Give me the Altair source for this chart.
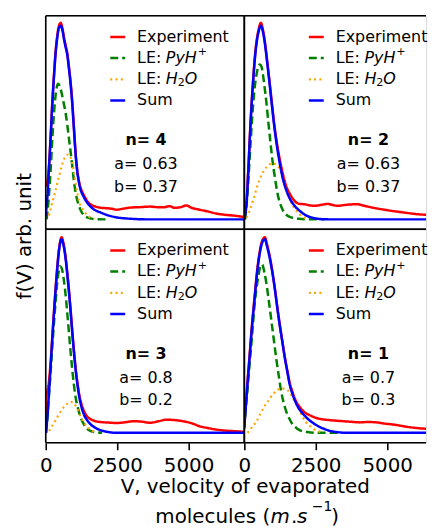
import altair as alt
import pandas as pd

FONT = "DejaVu Sans"
X_MAX = 6950
Y_MIN, Y_MAX = -0.0513, 1.0513
PANEL_W, PANEL_H = 200, 215
RIGHT_W = 183
X_MAX_RIGHT = X_MAX * RIGHT_W / PANEL_W

SERIES = ["Experiment", "PyH", "H2O", "Sum"]
COLORS = {"Experiment": "#ff0000", "PyH": "#008000", "H2O": "#ffa500", "Sum": "#0000ff"}
DASHES = {"Experiment": [1, 0], "PyH": [8, 4], "H2O": [2, 3.3], "Sum": [1, 0]}
WIDTHS = {"Experiment": 2.5, "PyH": 2.5, "H2O": 2.2, "Sum": 2.5}

# ---------------- n = 4 (top-left) ----------------
N4_EXP_V = [0, 30, 60, 120, 175, 232, 290, 347, 405, 463, 521, 580, 640, 695, 753, 811, 870, 927, 985, 1043,
            1100, 1158, 1216, 1300, 1390, 1448, 1564, 1750, 1911, 2100, 2300, 2491, 2700, 2900, 3069, 3300,
            3500, 3648, 3900, 4100, 4343, 4500, 4700, 4921, 5100, 5385, 5700, 5964, 6250, 6543, 6950]
N4_EXP_F = [0.17, 0.19, 0.2, 0.29, 0.44, 0.61, 0.75, 0.87, 0.95, 1.0, 1.015, 0.99, 0.94, 0.90, 0.86, 0.79,
            0.71, 0.61, 0.48, 0.35, 0.26, 0.20, 0.165, 0.135, 0.11, 0.095, 0.078, 0.066, 0.06, 0.058, 0.055,
            0.05, 0.055, 0.06, 0.062, 0.063, 0.065, 0.066, 0.063, 0.062, 0.068, 0.06, 0.062, 0.072, 0.06,
            0.05, 0.04, 0.03, 0.024, 0.02, 0.012]
N4_PYH_V = [30, 100, 174, 232, 290, 370, 430, 490, 560, 630, 695, 753, 811, 870, 927, 985, 1043, 1130, 1216,
            1330, 1448, 1600, 1800, 2100]
N4_PYH_F = [0.0, 0.1, 0.26, 0.42, 0.55, 0.67, 0.70, 0.69, 0.65, 0.60, 0.55, 0.49, 0.42, 0.35, 0.28, 0.2,
            0.14, 0.085, 0.05, 0.022, 0.01, 0.004, 0.001, 0.0]
N4_H2O_V = [116, 200, 290, 380, 463, 550, 637, 720, 790, 870, 927, 985, 1043, 1100, 1158, 1240, 1332, 1450,
            1564, 1700]
N4_H2O_F = [0.02, 0.07, 0.12, 0.17, 0.22, 0.27, 0.31, 0.33, 0.335, 0.32, 0.29, 0.245, 0.19, 0.14, 0.10,
            0.065, 0.045, 0.02, 0.01, 0.0]
N4_SUM_V = [0, 60, 120, 175, 232, 290, 347, 405, 463, 521, 580, 640, 695, 753, 811, 870, 927, 985, 1043,
            1100, 1158, 1216, 1300, 1390, 1448, 1564, 1700, 1911, 2200, 2491, 3000, 3500, 5000, 6950]
N4_SUM_F = [0.02, 0.12, 0.28, 0.43, 0.60, 0.74, 0.86, 0.94, 0.99, 1.00, 0.98, 0.93, 0.89, 0.85, 0.78, 0.70,
            0.60, 0.47, 0.34, 0.25, 0.195, 0.155, 0.125, 0.10, 0.087, 0.067, 0.05, 0.036, 0.02, 0.01, 0.003,
            0.0, 0.0, 0.0]

# ---------------- n = 2 (top-right) ----------------
N2_EXP_V = [0, 40, 81, 140, 197, 255, 313, 370, 429, 500, 580, 650, 718, 800, 892, 980, 1066, 1150, 1240,
            1350, 1471, 1600, 1761, 1930, 2108, 2300, 2456, 2700, 2919, 3100, 3266, 3500, 3700, 3962, 4200,
            4450, 4657, 4900, 5150, 5352, 5700, 6047, 6300, 6568, 6950]
N2_EXP_F = [0.03, 0.05, 0.1, 0.26, 0.44, 0.6, 0.73, 0.84, 0.92, 0.98, 1.015, 0.98, 0.92, 0.82, 0.70, 0.58,
            0.47, 0.385, 0.31, 0.235, 0.17, 0.13, 0.095, 0.08, 0.078, 0.072, 0.07, 0.075, 0.08, 0.074, 0.07,
            0.074, 0.077, 0.078, 0.07, 0.062, 0.056, 0.05, 0.044, 0.04, 0.033, 0.027, 0.024, 0.022, 0.018]
N2_PYH_V = [30, 81, 140, 197, 255, 313, 370, 429, 490, 545, 600, 660, 720, 776, 835, 892, 980, 1066, 1182,
            1270, 1356, 1500, 1645, 1900, 2400, 2800]
N2_PYH_F = [0.0, 0.08, 0.2, 0.34, 0.48, 0.6, 0.69, 0.75, 0.79, 0.80, 0.79, 0.74, 0.67, 0.60, 0.51, 0.43,
            0.31, 0.22, 0.12, 0.075, 0.045, 0.02, 0.01, 0.003, 0.0, 0.0]
N2_H2O_V = [81, 197, 313, 430, 545, 660, 776, 892, 1008, 1120, 1240, 1350, 1471, 1590, 1703, 1820, 1935,
            2080, 2224]
N2_H2O_F = [0.01, 0.05, 0.10, 0.16, 0.21, 0.245, 0.27, 0.285, 0.29, 0.28, 0.26, 0.21, 0.15, 0.105, 0.07,
            0.045, 0.026, 0.01, 0.0]
N2_SUM_V = [0, 40, 81, 140, 197, 255, 313, 370, 429, 500, 580, 650, 718, 800, 892, 980, 1066, 1150, 1240,
            1350, 1471, 1600, 1761, 1930, 2108, 2350, 2571, 3000, 5000, 6950]
N2_SUM_F = [0.0, 0.03, 0.087, 0.25, 0.43, 0.59, 0.72, 0.83, 0.91, 0.97, 1.0, 0.97, 0.91, 0.81, 0.69, 0.57,
            0.46, 0.37, 0.29, 0.21, 0.15, 0.105, 0.07, 0.045, 0.025, 0.01, 0.003, 0.0, 0.0, 0.0]

# ---------------- n = 3 (bottom-left) ----------------
N3_EXP_V = [0, 30, 58, 116, 174, 232, 290, 347, 405, 480, 556, 620, 695, 753, 811, 869, 927, 985, 1043,
            1100, 1158, 1240, 1332, 1420, 1506, 1650, 1800, 1911, 2200, 2491, 2800, 3069, 3350, 3648, 3950,
            4227, 4500, 4806, 5100, 5385, 5700, 5964, 6250, 6543, 6950]
N3_EXP_F = [0.08, 0.2, 0.22, 0.27, 0.37, 0.5, 0.63, 0.75, 0.86, 0.965, 1.01, 0.98, 0.91, 0.83, 0.74, 0.64,
            0.53, 0.43, 0.34, 0.27, 0.21, 0.155, 0.115, 0.09, 0.077, 0.065, 0.058, 0.056, 0.053, 0.051, 0.055,
            0.06, 0.058, 0.052, 0.06, 0.068, 0.066, 0.06, 0.05, 0.034, 0.024, 0.017, 0.012, 0.009, 0.005]
N3_PYH_V = [20, 58, 116, 174, 232, 290, 347, 405, 450, 498, 560, 614, 690, 753, 811, 869, 927, 985, 1050,
            1124, 1220, 1332, 1450, 1564, 1750, 1970]
N3_PYH_F = [0.0, 0.08, 0.2, 0.32, 0.45, 0.57, 0.68, 0.78, 0.83, 0.86, 0.85, 0.81, 0.72, 0.62, 0.52, 0.42,
            0.33, 0.25, 0.18, 0.13, 0.08, 0.045, 0.02, 0.01, 0.003, 0.0]
N3_H2O_V = [116, 200, 290, 400, 521, 640, 753, 869, 960, 1043, 1130, 1216, 1300, 1390, 1500, 1622, 1750]
N3_H2O_F = [0.01, 0.03, 0.05, 0.08, 0.11, 0.135, 0.15, 0.16, 0.155, 0.14, 0.115, 0.085, 0.06, 0.043, 0.025,
            0.01, 0.003]
N3_SUM_V = [0, 58, 116, 174, 232, 290, 347, 405, 480, 556, 620, 695, 753, 811, 869, 927, 985, 1043, 1100,
            1158, 1240, 1332, 1450, 1564, 1750, 1911, 2200, 2500, 4500, 6950]
N3_SUM_F = [0.0, 0.08, 0.21, 0.35, 0.49, 0.62, 0.74, 0.85, 0.96, 1.0, 0.97, 0.90, 0.82, 0.73, 0.63, 0.52,
            0.42, 0.33, 0.26, 0.20, 0.14, 0.096, 0.065, 0.045, 0.025, 0.014, 0.004, 0.0, 0.0, 0.0]

# ---------------- n = 1 (bottom-right) ----------------
N1_EXP_V = [0, 35, 110, 185, 270, 359, 450, 533, 620, 719, 800, 893, 980, 1066, 1150, 1240, 1330, 1414,
            1500, 1588, 1700, 1820, 1960, 2108, 2280, 2456, 2650, 2895, 3200, 3474, 3750, 4054, 4300, 4633,
            4900, 5212, 5500, 5791, 6100, 6486, 6950]
N1_EXP_F = [0.04, 0.11, 0.26, 0.4, 0.56, 0.70, 0.84, 0.93, 0.99, 1.01, 0.97, 0.91, 0.835, 0.75, 0.655, 0.56,
            0.475, 0.395, 0.325, 0.26, 0.205, 0.16, 0.13, 0.106, 0.092, 0.08, 0.072, 0.067, 0.063, 0.06,
            0.057, 0.054, 0.056, 0.054, 0.048, 0.043, 0.036, 0.029, 0.024, 0.02, 0.017]
N1_PYH_V = [0, 35, 110, 185, 270, 359, 430, 498, 560, 625, 700, 764, 850, 938, 1025, 1112, 1200, 1286, 1370,
            1460, 1570, 1679, 1820, 1969, 2200, 2500, 3300]
N1_PYH_F = [0.02, 0.1, 0.22, 0.355, 0.5, 0.66, 0.75, 0.815, 0.86, 0.87, 0.83, 0.78, 0.69, 0.59, 0.49, 0.39,
            0.30, 0.217, 0.16, 0.114, 0.075, 0.046, 0.025, 0.012, 0.004, 0.0, 0.0]
N1_H2O_V = [115, 270, 428, 570, 719, 860, 1008, 1150, 1297, 1440, 1588, 1700, 1820, 1935, 2050, 2160, 2282,
            2420, 2571, 2750]
N1_H2O_F = [0.0, 0.03, 0.06, 0.10, 0.14, 0.17, 0.20, 0.22, 0.23, 0.225, 0.21, 0.18, 0.15, 0.115, 0.08,
            0.055, 0.038, 0.02, 0.01, 0.0]
N1_SUM_V = [0, 35, 110, 185, 270, 359, 450, 533, 620, 719, 800, 893, 980, 1066, 1150, 1240, 1330, 1414, 1500,
            1588, 1700, 1820, 1960, 2108, 2280, 2456, 2630, 2803, 3000, 3300, 3600, 5000, 6950]
N1_SUM_F = [0.03, 0.1, 0.25, 0.39, 0.55, 0.69, 0.83, 0.92, 0.98, 1.0, 0.96, 0.90, 0.83, 0.745, 0.65, 0.556,
            0.47, 0.39, 0.32, 0.25, 0.195, 0.15, 0.115, 0.089, 0.065, 0.046, 0.031, 0.02, 0.01, 0.003, 0.0,
            0.0, 0.0]

PANEL_N = ["4", "2", "3", "1"]
PANEL_A = ["0.63", "0.63", "0.8", "0.7"]
PANEL_B = ["0.37", "0.37", "0.2", "0.3"]
X_TICKS = [0, 2500, 5000]
Y_TITLE = "f(V) arb. unit"
X_TITLE_1 = "V, velocity of evaporated"

ONE = pd.DataFrame({"k": [0]})


def txt(t, x, y, size=16, style="normal", weight="normal", align="left", angle=0):
    return alt.Chart(ONE).mark_text(
        text=t, font=FONT, fontSize=size, fontStyle=style, fontWeight=weight,
        align=align, baseline="middle", color="black", angle=angle
    ).encode(x=alt.value(x), y=alt.value(y))


def handle(key, y):
    return alt.Chart(ONE).mark_rule(
        color=COLORS[key], strokeDash=DASHES[key], strokeWidth=WIDTHS[key]
    ).encode(x=alt.value(65), x2=alt.value(80), y=alt.value(y))


def hrule(x1, x2, y):
    return alt.Chart(ONE).mark_rule(color="black", strokeWidth=1.6).encode(
        x=alt.value(x1), x2=alt.value(x2), y=alt.value(y))


def vrule(x, y1, y2):
    return alt.Chart(ONE).mark_rule(color="black", strokeWidth=1.6).encode(
        x=alt.value(x), y=alt.value(y1), y2=alt.value(y2))


def make_panel(data, n, a, b, ann_x, bottom, right, extra=None):
    w = RIGHT_W if right else PANEL_W
    xmax = X_MAX_RIGHT if right else X_MAX
    xs = alt.Scale(domain=[0, xmax], nice=False, zero=False)
    ys = alt.Scale(domain=[Y_MIN, Y_MAX], nice=False, zero=False)
    if bottom:
        xaxis = alt.Axis(values=X_TICKS, format="d", title=None, grid=False, domain=False,
                         ticks=True, tickSize=7, tickWidth=1.6, tickColor="black",
                         labelFontSize=20, labelFont=FONT, labelColor="black",
                         labelPadding=6, labelFlush=False)
    else:
        xaxis = None
    layers = []
    for key in SERIES:
        v, f = data[key]
        layers.append(
            alt.Chart(pd.DataFrame({"v": v, "f": f})).mark_line(
                clip=True, interpolate="monotone", color=COLORS[key],
                strokeDash=DASHES[key], strokeWidth=WIDTHS[key]
            ).encode(
                x=alt.X("v:Q", scale=xs, axis=xaxis),
                y=alt.Y("f:Q", scale=ys, axis=None),
            )
        )
    rows = [21.3, 42.5, 64, 85.3]
    LX = 92
    for key, r in zip(SERIES, rows):
        layers.append(handle(key, r))
    layers.append(txt("Experiment", LX, rows[0]))
    layers.append(txt("LE:", LX, rows[1]))
    layers.append(txt("PyH", LX + 29, rows[1], style="italic"))
    layers.append(txt("+", LX + 61, rows[1] - 6, size=11.2))
    layers.append(txt("LE:", LX, rows[2]))
    layers.append(txt("H", LX + 29, rows[2], style="italic"))
    layers.append(txt("2", LX + 41, rows[2] + 4, size=11.2))
    layers.append(txt("O", LX + 48, rows[2], style="italic"))
    layers.append(txt("Sum", LX, rows[3]))
    layers.append(txt("n= " + n, ann_x, 125.5, weight="bold", align="center"))
    layers.append(txt("a= " + a, ann_x, 149.5, align="center"))
    layers.append(txt("b= " + b, ann_x, 172, align="center"))
    layers.append(hrule(0, w, 0))
    layers.append(hrule(0, w, PANEL_H))
    layers.append(vrule(0, 0, PANEL_H))
    if not right:
        layers.append(vrule(w, 0, PANEL_H))
    if extra:
        layers.extend(extra)
    ch = alt.layer(*layers).properties(width=w, height=PANEL_H)
    return ch


d4 = {"Experiment": (N4_EXP_V, N4_EXP_F), "PyH": (N4_PYH_V, N4_PYH_F),
      "H2O": (N4_H2O_V, N4_H2O_F), "Sum": (N4_SUM_V, N4_SUM_F)}
d2 = {"Experiment": (N2_EXP_V, N2_EXP_F), "PyH": (N2_PYH_V, N2_PYH_F),
      "H2O": (N2_H2O_V, N2_H2O_F), "Sum": (N2_SUM_V, N2_SUM_F)}
d3 = {"Experiment": (N3_EXP_V, N3_EXP_F), "PyH": (N3_PYH_V, N3_PYH_F),
      "H2O": (N3_H2O_V, N3_H2O_F), "Sum": (N3_SUM_V, N3_SUM_F)}
d1 = {"Experiment": (N1_EXP_V, N1_EXP_F), "PyH": (N1_PYH_V, N1_PYH_F),
      "H2O": (N1_H2O_V, N1_H2O_F), "Sum": (N1_SUM_V, N1_SUM_F)}

ytitle = [txt(Y_TITLE, -21, 222, size=20, align="center", angle=270)]
xtitle = [
    txt(X_TITLE_1, 201, 259.7, size=20, align="center"),
    txt("molecules (", 226, 289.7, size=20, align="right"),
    txt("m", 226.5, 289.7, size=20, style="italic"),
    txt(".", 247, 289.7, size=20),
    txt("s", 253, 289.7, size=20, style="italic"),
    txt("\u22121", 268, 279.7, size=14),
    txt(")", 287.5, 289.7, size=20),
]

p4 = make_panel(d4, PANEL_N[0], PANEL_A[0], PANEL_B[0], 101, False, False, ytitle)
p2 = make_panel(d2, PANEL_N[1], PANEL_A[1], PANEL_B[1], 125, False, True)
p3 = make_panel(d3, PANEL_N[2], PANEL_A[2], PANEL_B[2], 101, True, False, xtitle)
p1 = make_panel(d1, PANEL_N[3], PANEL_A[3], PANEL_B[3], 125, True, True)

chart = alt.concat(p4, p2, p3, p1, columns=2, spacing=0, bounds="flush").properties(
    padding={"left": 6, "top": 4, "right": 0, "bottom": 5}
).configure_view(stroke="transparent").configure(font=FONT)

chart.save("out.html", embed_options={"renderer": "svg", "actions": False})
